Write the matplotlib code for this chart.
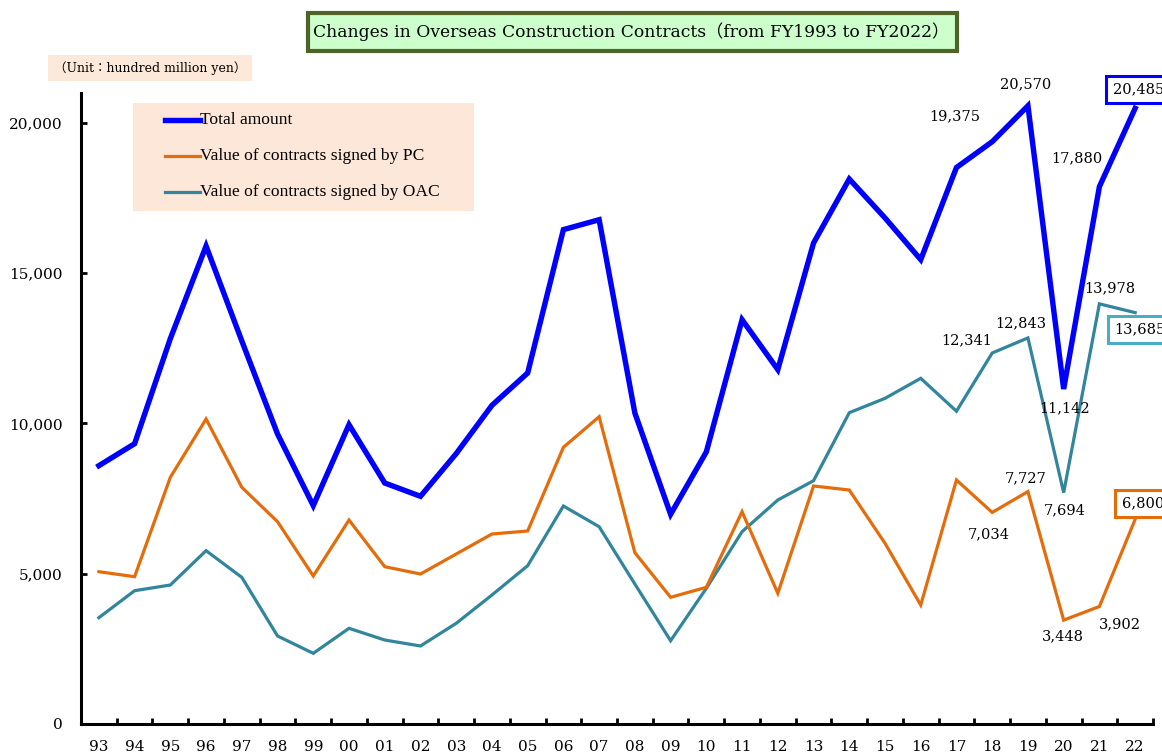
import matplotlib
matplotlib.use("Agg")
import matplotlib.pyplot as plt
from matplotlib.patches import Rectangle
from matplotlib.lines import Line2D

years = ["93", "94", "95", "96", "97", "98", "99", "00", "01", "02", "03", "04", "05", "06", "07",
         "08", "09", "10", "11", "12", "13", "14", "15", "16", "17", "18", "19", "20", "21", "22"]
total = [8589, 9322, 12820, 15903, 12743, 9645, 7260, 9955, 8013, 7570, 8991, 10599, 11675, 16448, 16778,
         10343, 6971, 9048, 13450, 11788, 16002, 18133, 16838, 15449, 18516, 19375, 20570, 11142, 17880, 20485]
pc = [5060, 4894, 8203, 10143, 7870, 6725, 4917, 6780, 5227, 4983, 5649, 6315, 6415, 9201, 10220,
      5693, 4208, 4541, 7058, 4341, 7913, 7780, 6006, 3951, 8113, 7034, 7727, 3448, 3902, 6800]
oac = [3529, 4428, 4617, 5760, 4873, 2920, 2343, 3175, 2786, 2587, 3342, 4284, 5260, 7247, 6558,
       4650, 2763, 4507, 6392, 7447, 8089, 10353, 10832, 11498, 10403, 12341, 12843, 7694, 13978, 13685]
yticks = [0, 5000, 10000, 15000, 20000]
series_names = ["Total amount", "Value of contracts signed by PC", "Value of contracts signed by OAC"]
title = "Changes in Overseas Construction Contracts（from FY1993 to FY2022）"
unit = "（Unit：hundred million yen）"

C_BLUE = "#0000FF"
C_ORANGE = "#E46C0A"
C_TEAL = "#31859C"
SERIF = ["DejaVu Serif", "Noto Sans CJK JP"]
LEGSERIF = ["Liberation Serif", "DejaVu Serif"]
W, H = 1162, 756

plt.rcParams["font.family"] = SERIF

fig = plt.figure(figsize=(W / 100, H / 100), dpi=100)
ax = fig.add_axes([81 / W, 32.3 / H, (1153 - 81) / W, (723.7 - 92.9) / H])

x = list(range(len(years)))
ax.plot(x, oac, color=C_TEAL, lw=2.3, solid_joinstyle="miter", zorder=3)
ax.plot(x, pc, color=C_ORANGE, lw=2.3, solid_joinstyle="miter", zorder=3)
ax.plot(x, total, color=C_BLUE, lw=3.9, solid_joinstyle="miter", zorder=4)

ax.set_xlim(-0.5, len(years) - 0.5)
ax.set_ylim(0, 21000)
for s in ["top", "right"]:
    ax.spines[s].set_visible(False)
for s in ["left", "bottom"]:
    ax.spines[s].set_linewidth(2.2)
    ax.spines[s].set_color("black")

ax.set_yticks(yticks)
ax.set_yticklabels([f"{v:,}" for v in yticks], fontsize=11)
ax.tick_params(axis="y", direction="in", length=4, width=2, pad=13)

ax.set_xticks(x)
ax.set_xticklabels(years, fontsize=11)
ax.tick_params(axis="x", which="major", length=0, pad=12)
ax.set_xticks([i + 0.5 for i in range(len(years))], minor=True)
ax.tick_params(axis="x", which="minor", direction="in", length=4, width=2)

# title box
fig.patches.append(Rectangle((308 / W, 1 - 51 / H), (957 - 308) / W, 38 / H,
                             transform=fig.transFigure, facecolor="#CCFFCC",
                             edgecolor="#4F6228", lw=3, zorder=0))
fig.text(631 / W, 1 - 32 / H, title, ha="center", va="center", fontsize=12.3,
         family=SERIF)

# unit box
fig.patches.append(Rectangle((48 / W, 1 - 81 / H), (252 - 48) / W, 26 / H,
                             transform=fig.transFigure, facecolor="#FDE9D9",
                             edgecolor="none", zorder=0))
fig.text(150 / W, 1 - 68 / H, unit, ha="center", va="center", fontsize=9,
         family=SERIF)

# legend (drawn manually in figure pixel positions)
fig.patches.append(Rectangle((133 / W, 1 - 211 / H), (474 - 133) / W, (211 - 103) / H,
                             transform=fig.transFigure, facecolor="#FCE7D9",
                             edgecolor="none", zorder=1))
leg_colors = [C_BLUE, C_ORANGE, C_TEAL]
leg_widths = [3.9, 2.3, 2.3]
for k, (name, c, lw) in enumerate(zip(series_names, leg_colors, leg_widths)):
    yy = 1 - (120 + 36 * k) / H
    fig.add_artist(Line2D([165 / W, 200 / W], [yy, yy], transform=fig.transFigure,
                          color=c, lw=lw, zorder=2))
    fig.text(200 / W, yy, name, ha="left", va="center", fontsize=12.6,
             family=LEGSERIF, zorder=2)

# data labels
def lab(series, i, dx, dy, box=None):
    kw = dict(textcoords="offset pixels", ha="center", va="center", fontsize=10.5,
              annotation_clip=False, zorder=6)
    if box:
        kw["bbox"] = dict(boxstyle="square,pad=0.45", facecolor="white", edgecolor=box, lw=2.2)
    ax.annotate(f"{series[i]:,}", (i, series[i]), xytext=(dx, -dy), **kw)

lab(total, 25, -37, -25)
lab(total, 26, -2, -22)
lab(total, 28, -23, -28)
lab(total, 29, 3, -19, box=C_BLUE)
lab(total, 27, 1, 19)
lab(oac, 28, 10, -16)
lab(oac, 29, 5, 17, box="#4BACC6")
lab(oac, 26, -7, -15)
lab(oac, 25, -26, -13)
lab(oac, 27, 1, 18)
lab(pc, 26, -2, -13)
lab(pc, 25, -3, 22)
lab(pc, 27, -1, 16)
lab(pc, 28, 20, 18)
lab(pc, 29, 8, -16, box=C_ORANGE)

fig.savefig("out.png", dpi=100)
